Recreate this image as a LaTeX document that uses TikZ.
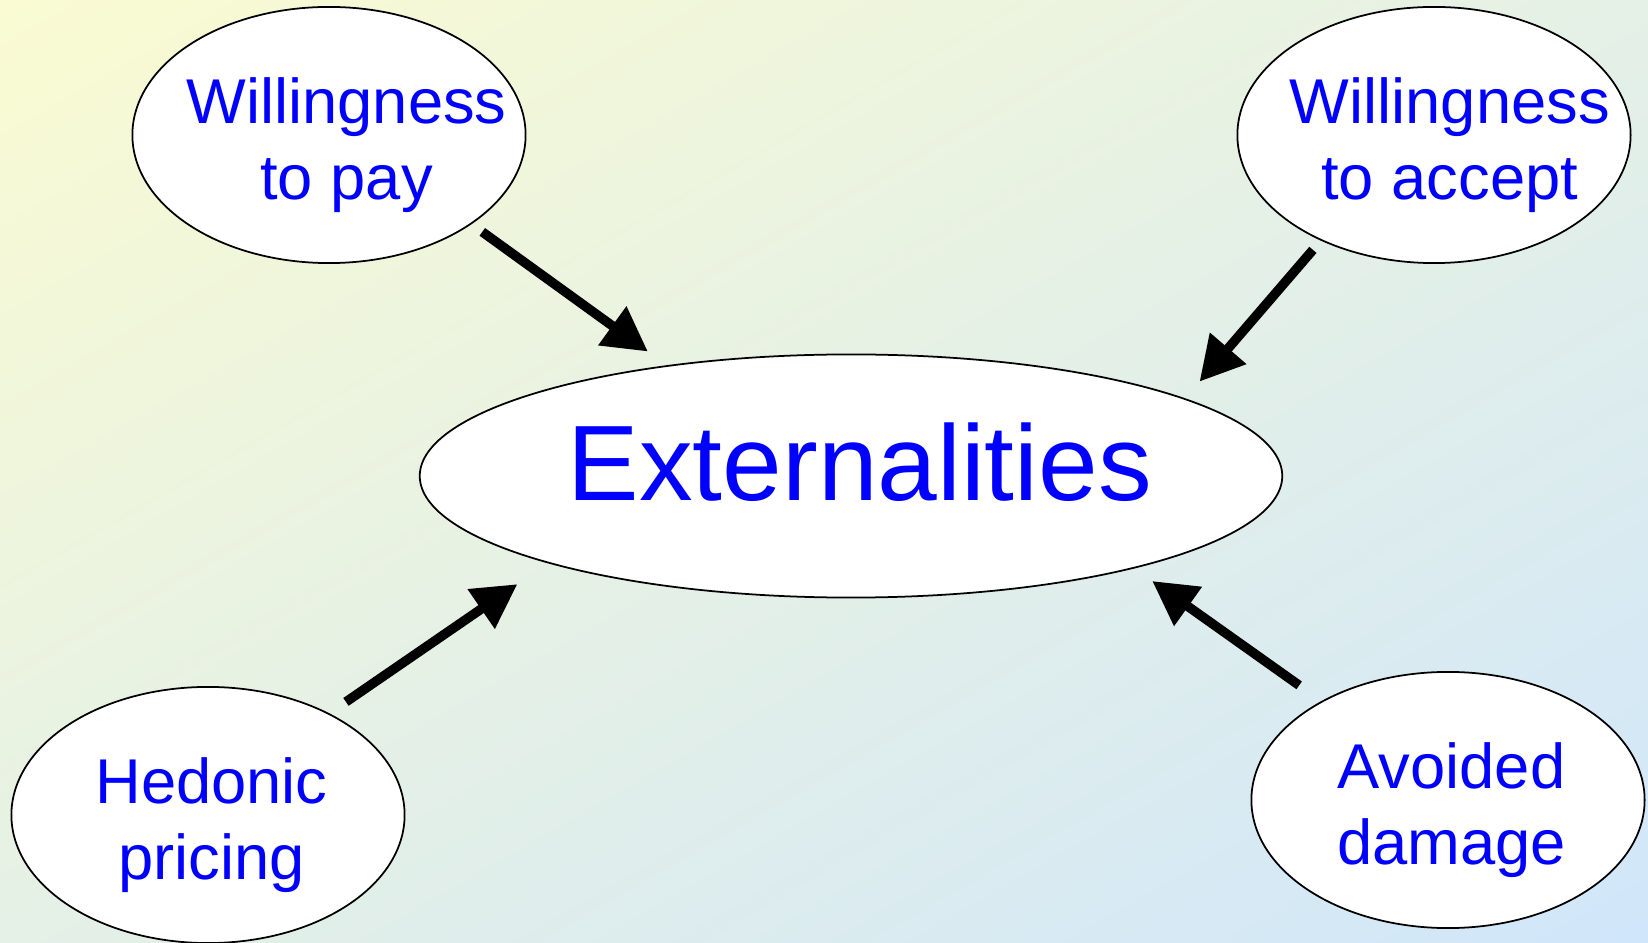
\documentclass[tikz,border=0pt]{standalone}
\usepackage{fontspec}
\setmainfont{Liberation Sans}
\usetikzlibrary{shapes.geometric,arrows.meta,shadings}

\definecolor{bgyellow}{RGB}{250,251,210}
\definecolor{bgblue}{RGB}{208,230,250}
\definecolor{txtblue}{RGB}{0,0,255}

\tikzset{
  oval/.style={draw,ellipse,fill=white,line width=0.5pt,inner xsep=-12pt,inner ysep=0pt,outer sep=0pt,
    minimum width=3.93cm,minimum height=2.56cm,text=txtblue,align=center,
    font=\fontsize{18}{21.5}\selectfont},
  smalloval/.style={oval,execute at begin node={\rule{0pt}{40.3pt}}},
  bigoval/.style={oval,inner xsep=0pt,minimum width=8.62cm,minimum height=2.43cm,
    font=\fontsize{30.5}{36}\selectfont,text height=22pt,text depth=8pt},
  fatarrow/.style={line width=2.7pt,-{Triangle[length=12.5pt,width=13pt]}}
}

\begin{document}
\begin{tikzpicture}[x=0.01cm,y=-0.01cm]
% background
\shade[upper left=bgyellow,lower right=bgblue,upper right=bgyellow!50!bgblue,lower left=bgyellow!50!bgblue]
  (0,0) rectangle (1648,943);
\useasboundingbox (0,0) rectangle (1648,943);

\node[bigoval] (ext) at (851,476) {\hspace*{5pt}Externalities};
\node[smalloval] (wtp) at (329,135) {\hspace*{10pt}Willingness\\\hspace*{10pt}to pay};
\node[smalloval] (wta) at (1434,135) {\hspace*{9pt}Willingness\\\hspace*{9pt}to accept};
\node[smalloval] (hp) at (208,815) {\hspace*{2pt}Hedonic\\\hspace*{2pt}pricing};
\node[smalloval] (ad) at (1448,800) {\hspace*{2pt}Avoided\\\hspace*{2pt}damage};

\draw[fatarrow,shorten <=4pt,shorten >=7pt] (wtp.-32.7) -- (ext.149.8);
\draw[fatarrow,shorten <=3.7pt,shorten >=6.5pt] (wta.-137.4) -- (ext.13.5);
\draw[fatarrow,shorten <=6pt,shorten >=10.8pt] (hp.40.4) -- (ext.-164.8);
\draw[fatarrow,shorten <=8pt,shorten >=6.5pt] (ad.142.8) -- (ext.-18.6);
\end{tikzpicture}
\end{document}
